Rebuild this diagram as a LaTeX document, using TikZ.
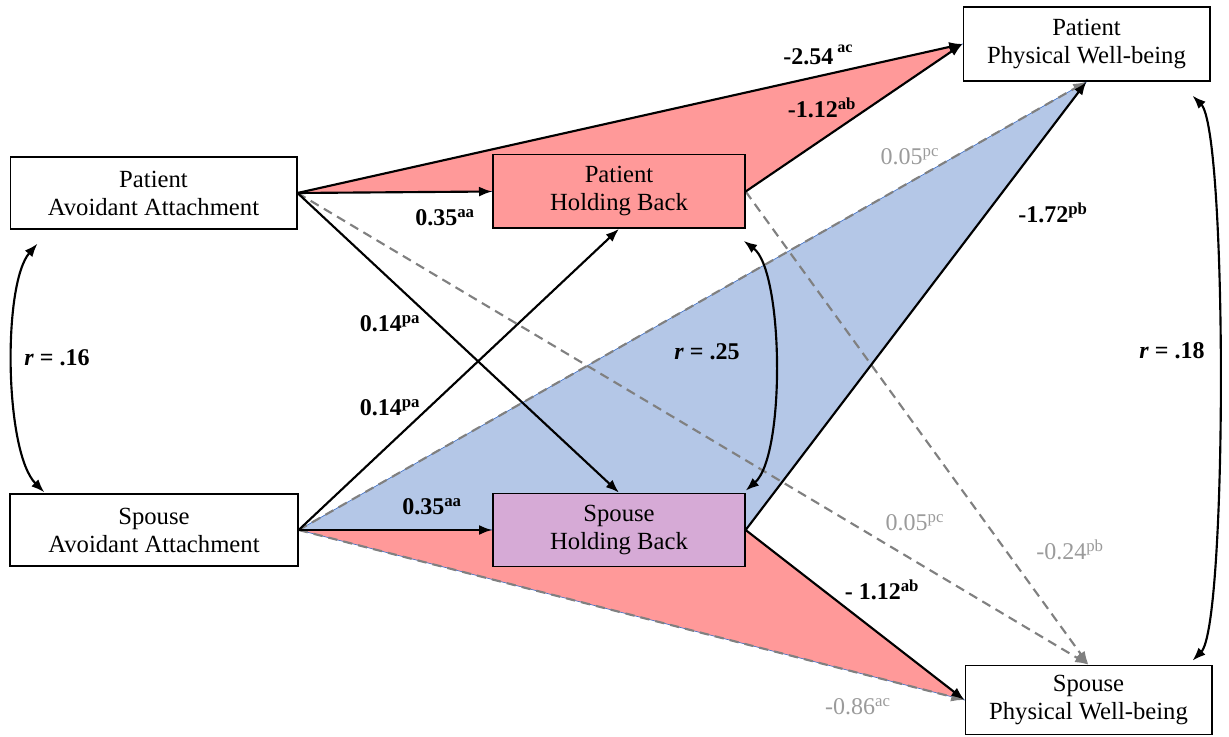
\documentclass[tikz,border=0pt]{standalone}
\usepackage{fontspec}
\setmainfont{Liberation Serif}
\newfontfamily\diagfont{Liberation Serif}
\usepackage{xcolor}
\usetikzlibrary{arrows.meta}
\pgfdeclarelayer{bg}
\pgfsetlayers{bg,main}
\definecolor{redfill}{RGB}{255,153,153}
\definecolor{bluefill}{RGB}{180,199,231}
\definecolor{blueedge}{RGB}{68,114,196}
\definecolor{lilacfill}{RGB}{214,170,214}
\definecolor{nsline}{RGB}{128,128,128}
\definecolor{nstext}{RGB}{155,155,155}

\begin{document}
\begin{tikzpicture}[x=0.75pt,y=0.75pt,yscale=-1,xscale=1,
  varbox/.style={draw=black, line width=1pt, fill=white, align=center, inner sep=0pt,
    font=\diagfont\fontsize{18.5}{21}\selectfont},
  sigpath/.style={draw=black, line width=1.6pt, -{Latex[length=10pt,width=7.5pt]}},
  nspath/.style={draw=nsline, line width=1.6pt, dash pattern=on 7pt off 4.5pt,
    -{Latex[length=10pt,width=7.5pt]}},
  corrpath/.style={draw=black, line width=1.6pt,
    {Latex[length=10pt,width=7.5pt]}-{Latex[length=10pt,width=7.5pt]}},
  coef/.style={inner sep=1pt, font=\diagfont\fontsize{18}{20}\selectfont\bfseries},
  nscoef/.style={inner sep=1pt, text=nstext, font=\diagfont\fontsize{18}{20}\selectfont}]
\useasboundingbox (0,0) rectangle (1229,737);

% Boxes
\node[varbox, minimum width=215pt, minimum height=54pt] (pa) at (153.5,193) {Patient\\Avoidant Attachment};
\node[varbox, minimum width=216pt, minimum height=54pt] (sa) at (154,530) {Spouse\\Avoidant Attachment};
\node[varbox, fill=redfill, minimum width=189pt, minimum height=55pt] (ph) at (619,191.5) {Patient\\Holding Back};
\node[varbox, fill=lilacfill, minimum width=189pt, minimum height=55pt] (sh) at (619,530) {Spouse\\Holding Back};
\node[varbox, minimum width=185pt, minimum height=55.5pt] (pp) at (1086.5,44) {Patient\\Physical Well-being};
\node[varbox, minimum width=185pt, minimum height=52pt] (sp) at (1088.5,700) {Spouse\\Physical Well-being};

\begin{pgfonlayer}{bg}
%Shaded paths
\filldraw[fill=redfill, draw=blueedge, line width=0.5pt] (pa.east) -- (pp.west) -- (ph.east) -- (ph.west) -- cycle;
\filldraw[fill=bluefill, draw=blueedge, line width=0.5pt] (sa.east) -- (pp.south) -- (sh.east) -- (sh.west) -- cycle;
\filldraw[fill=redfill, draw=blueedge, line width=0.5pt] (sa.east) -- (sp.west) -- (sh.east) -- (sh.west) -- cycle;

%Non significant paths
\draw[nspath] (sa.east) -- (pp.south);
\draw[nspath] (sa.east) -- (sp.west);
\draw[nspath] (pa.east) -- (sp.north);
\draw[nspath] (ph.east) -- (sp.north);

%Significant paths
\draw[sigpath] (pa.east) -- (ph.west);
\draw[sigpath] (pa.east) -- (pp.west);
\draw[sigpath] (ph.east) -- (pp.west);
\draw[sigpath] (pa.east) -- (sh.north);
\draw[sigpath] (sa.east) -- (ph.south);
\draw[sigpath] (sa.east) -- (sh.west);
\draw[sigpath] (sh.east) -- (pp.south);
\draw[sigpath] (sh.east) -- (sp.west);
\end{pgfonlayer}

%Correlations
\coordinate (r16a) at ([shift={(28,14)}]pa.south west);
\coordinate (r16b) at ([shift={(35,-1)}]sa.north west);
\draw[corrpath] (r16a) .. controls +(-35,40) and +(-40,-40) .. (r16b);
\coordinate (r25a) at ([shift={(-2,12)}]ph.south east);
\coordinate (r25b) at ([shift={(0,-2)}]sh.north east);
\draw[corrpath] (r25a) .. controls +(40,30) and +(40,-35) .. (r25b);
\coordinate (r18a) at ([shift={(-18,14)}]pp.south east);
\coordinate (r18b) at ([shift={(-20,-4)}]sp.north east);
\draw[corrpath] (r18a) .. controls +(35,35) and +(35,-35) .. (r18b);

% Text Node
\node[coef] (c254) at (818,55) {-2.54\,\raisebox{1.1ex}{\fontsize{12}{12}\selectfont ac}};
\node[coef] (c112a) at (822,108) {-1.12\textsuperscript{ab}};
\node[nscoef] (c05a) at (910,157) {0.05\textsuperscript{pc}};
\node[coef] (c172) at (1053,213) {-1.72\textsuperscript{pb}};
\node[coef] (c35a) at (445,218) {0.35\textsuperscript{aa}};
\node[coef] (c14a) at (390,324) {0.14\textsuperscript{pa}};
\node[coef] (c14b) at (390,408) {0.14\textsuperscript{pa}};
\node[coef] (r25) at (707,352) {\textit{r} = .25};
\node[coef] (r16) at (57,358) {\textit{r} = .16};
\node[coef] (r18) at (1172,351) {\textit{r} = .18};
\node[coef] (c35b) at (432,507) {0.35\textsuperscript{aa}};
\node[nscoef] (c05b) at (915,523) {0.05\textsuperscript{pc}};
\node[nscoef] (c24) at (1070,550) {-0.24\textsuperscript{pb}};
\node[coef] (c112b) at (882,590) {- 1.12\textsuperscript{ab}};
\node[nscoef] (c86) at (858,707) {-0.86\textsuperscript{ac}};

\end{tikzpicture}
\end{document}
